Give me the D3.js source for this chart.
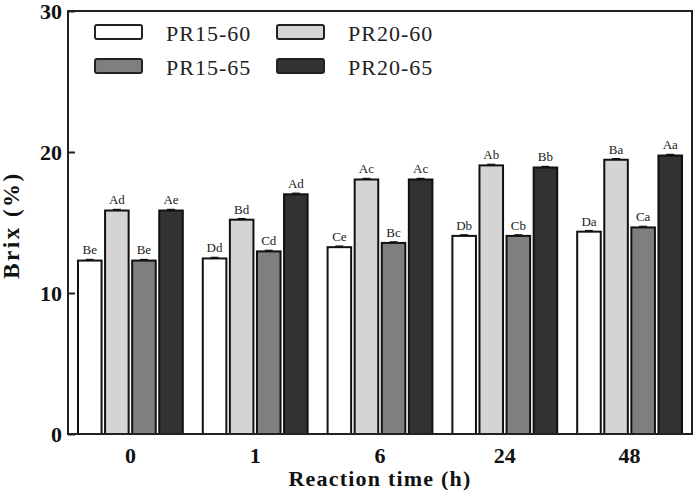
<!DOCTYPE html>
<html>
<head>
<meta charset="utf-8">
<script src="https://cdn.jsdelivr.net/npm/d3@7"></script>
<style>
	body { margin: 0; background: #fff; }
	svg { font-family: 'Liberation Serif', 'Times New Roman', serif; }
</style>
</head>
<body>
<svg id="chart" width="695" height="490"></svg>
<script>
const times = ['0', '1', '6', '24', '48'];
const seriesNames = ['PR15-60', 'PR20-60', 'PR15-65', 'PR20-65'];
const seriesColors = ['#ffffff', '#d4d4d4', '#7f7f7f', '#323232'];

// brix values per series, one per reaction time
const pr1560 = [12.3, 12.45, 13.25, 14.05, 14.35];
const pr2060 = [15.85, 15.2, 18.05, 19.05, 19.45];
const pr1565 = [12.3, 12.95, 13.55, 14.05, 14.65];
const pr2065 = [15.85, 17.0, 18.05, 18.9, 19.75];
const errors = [
	[0.08, 0.08, 0.08, 0.08, 0.08],
	[0.08, 0.08, 0.08, 0.08, 0.08],
	[0.08, 0.08, 0.08, 0.08, 0.08],
	[0.08, 0.08, 0.08, 0.08, 0.08],
];
const letters = [
	['Be', 'Dd', 'Ce', 'Db', 'Da'],
	['Ad', 'Bd', 'Ac', 'Ab', 'Ba'],
	['Be', 'Cd', 'Bc', 'Cb', 'Ca'],
	['Ae', 'Ad', 'Ac', 'Bb', 'Aa'],
];
const yTicks = [0, 10, 20, 30];

const allValues = [pr1560, pr2060, pr1565, pr2065];

const margins = {left: 68, right: 3, top: 11, bottom: 56};
const width = 695, height = 490;
const svg = d3.select('#chart');

const x0 = d3.scaleBand()
	.domain(times)
	.range([margins.left, width - margins.right])
	.paddingInner(0.16)
	.paddingOuter(0.08);

const x1 = d3.scaleBand()
	.domain(seriesNames)
	.range([0, x0.bandwidth()])
	.paddingInner(0.13);

const y = d3.scaleLinear()
	.domain([0, 30])
	.range([height - margins.bottom, margins.top]);

const data = [];
times.forEach((t, i) => {
	seriesNames.forEach((s, j) => {
		data.push({time: t, series: s, idx: j, value: allValues[j][i], err: errors[j][i], letter: letters[j][i]});
	});
});

const barMid = d => x0(d.time) + x1(d.series) + x1.bandwidth() / 2;

// bars
svg.append('g').selectAll('rect')
	.data(data)
	.enter().append('rect')
	.attr('x', d => x0(d.time) + x1(d.series))
	.attr('y', d => y(d.value))
	.attr('width', x1.bandwidth())
	.attr('height', d => y(0) - y(d.value))
	.attr('fill', d => seriesColors[d.idx])
	.attr('stroke', '#111')
	.attr('stroke-width', 2);

// error caps
const caps = svg.append('g').selectAll('g')
	.data(data)
	.enter().append('g')
	.attr('stroke', '#111')
	.attr('stroke-width', 1.2);
caps.append('line')
	.attr('x1', barMid)
	.attr('x2', barMid)
	.attr('y1', d => y(d.value))
	.attr('y2', d => y(d.value + d.err));
caps.append('line')
	.attr('x1', d => barMid(d) - 4)
	.attr('x2', d => barMid(d) + 4)
	.attr('y1', d => y(d.value + d.err))
	.attr('y2', d => y(d.value + d.err));

// significance letters
svg.append('g').selectAll('text')
	.data(data)
	.enter().append('text')
	.attr('x', barMid)
	.attr('y', d => y(d.value + d.err) - 5)
	.attr('text-anchor', 'middle')
	.attr('font-size', 13)
	.attr('fill', '#222')
	.text(d => d.letter);

// frame
svg.append('rect')
	.attr('x', margins.left)
	.attr('y', margins.top)
	.attr('width', width - margins.left - margins.right)
	.attr('height', y(0) - margins.top)
	.attr('fill', 'none')
	.attr('stroke', '#222')
	.attr('stroke-width', 2);

// y axis
const yAxis = d3.axisLeft(y)
	.tickValues(yTicks)
	.tickSizeInner(-7)
	.tickSizeOuter(0)
	.tickPadding(6);
const yAxisG = svg.append('g')
	.attr('transform', `translate(${margins.left},0)`)
	.call(yAxis);
yAxisG.select('.domain').remove();
yAxisG.selectAll('line').attr('stroke', '#222').attr('stroke-width', 2);
yAxisG.selectAll('text')
	.attr('font-family', "'Liberation Serif', serif")
	.attr('font-size', 22)
	.attr('font-weight', 'bold')
	.attr('fill', '#111');

// x axis
const xAxisG = svg.append('g')
	.attr('transform', `translate(0,${y(0)})`)
	.call(d3.axisBottom(x0).tickSize(0).tickPadding(13));
xAxisG.select('.domain').remove();
xAxisG.selectAll('text')
	.attr('font-family', "'Liberation Serif', serif")
	.attr('font-size', 22)
	.attr('font-weight', 'bold')
	.attr('fill', '#111');

// axis titles
svg.append('text')
	.attr('x', 380)
	.attr('y', 486)
	.attr('text-anchor', 'middle')
	.attr('font-size', 22)
	.attr('font-weight', 'bold')
	.attr('letter-spacing', 1.2)
	.attr('fill', '#111')
	.text('Reaction time (h)');

svg.append('text')
	.attr('transform', 'translate(19,225) rotate(-90)')
	.attr('text-anchor', 'middle')
	.attr('font-size', 23)
	.attr('font-weight', 'bold')
	.attr('letter-spacing', 2.5)
	.attr('fill', '#111')
	.text('Brix (%)');

// legend
const legend = svg.append('g').selectAll('g')
	.data(seriesNames)
	.enter().append('g')
	.attr('transform', (d, i) => `translate(${95 + (i % 2) * 182},${25 + Math.floor(i / 2) * 34})`);
legend.append('rect')
	.attr('width', 47)
	.attr('height', 14)
	.attr('rx', 2)
	.attr('fill', (d, i) => seriesColors[i])
	.attr('stroke', '#222')
	.attr('stroke-width', 2);
legend.append('text')
	.attr('x', 71)
	.attr('y', 16)
	.attr('font-size', 22)
	.attr('letter-spacing', 1)
	.attr('fill', '#222')
	.text(d => d);
</script>
</body>
</html>
